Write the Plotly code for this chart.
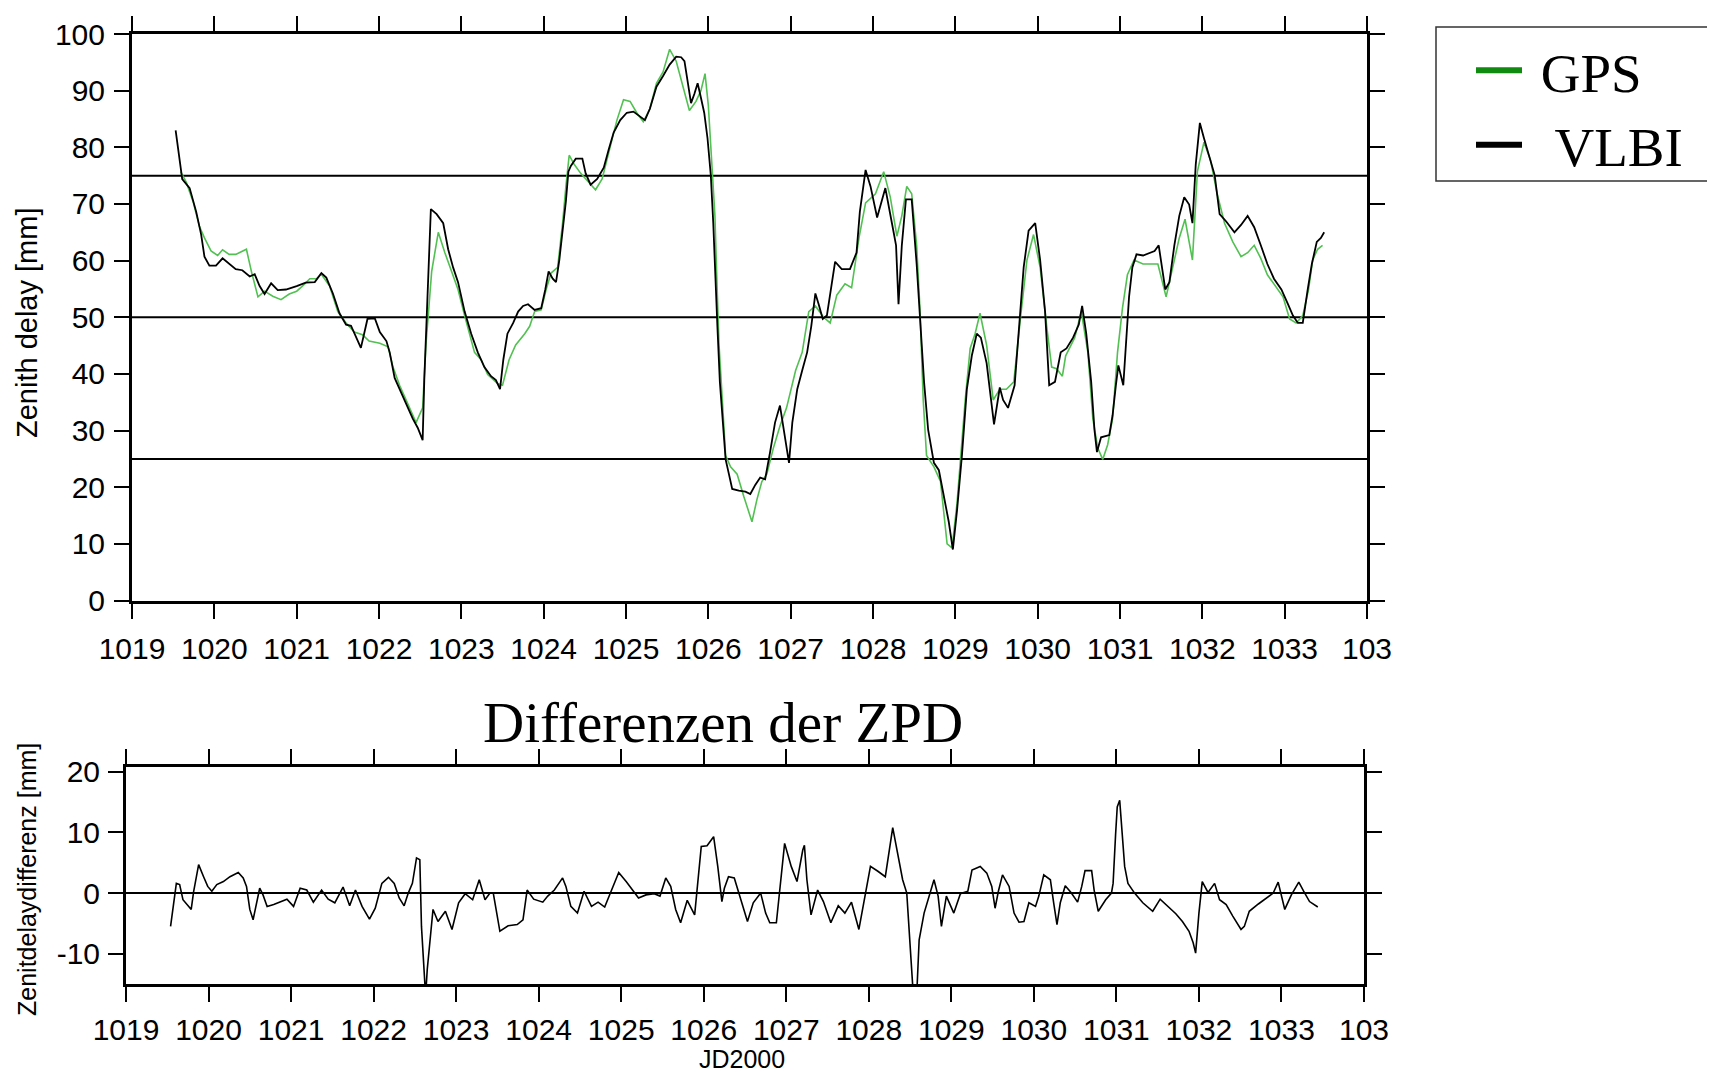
import plotly.graph_objects as go

# ---------------- data ----------------
jd_ticks = list(range(1019, 1035))
jd_tick_labels = [str(v) for v in range(1019, 1034)] + ["103"]
zd_ticks = list(range(0, 101, 10))
diff_ticks = [-10, 0, 10, 20]
diff_tick_labels = ["-10", "0", "10", "20"]
ref_levels = [25, 50, 75]

gps_jd = [1019.59, 1019.66, 1019.74, 1019.82, 1019.88, 1019.96, 1020.04, 1020.10, 1020.18, 1020.26,
          1020.39, 1020.45, 1020.53, 1020.61, 1020.71, 1020.81, 1020.91, 1021.00, 1021.07, 1021.16,
          1021.24, 1021.30, 1021.40, 1021.50, 1021.60, 1021.70, 1021.80, 1021.88, 1022.01, 1022.11,
          1022.17, 1022.25, 1022.35, 1022.45, 1022.53, 1022.57, 1022.64, 1022.72, 1022.80, 1022.88,
          1022.96, 1023.04, 1023.16, 1023.24, 1023.32, 1023.44, 1023.50, 1023.58, 1023.66, 1023.77,
          1023.83, 1023.89, 1023.97, 1024.03, 1024.09, 1024.17, 1024.23, 1024.27, 1024.31, 1024.37,
          1024.45, 1024.55, 1024.63, 1024.71, 1024.79, 1024.89, 1024.97, 1025.05, 1025.13, 1025.21,
          1025.29, 1025.37, 1025.45, 1025.53, 1025.61, 1025.69, 1025.77, 1025.85, 1025.91, 1025.96,
          1026.00, 1026.04, 1026.08, 1026.10, 1026.13, 1026.17, 1026.21, 1026.27, 1026.35, 1026.43,
          1026.53, 1026.59, 1026.65, 1026.71, 1026.79, 1026.87, 1026.95, 1027.06, 1027.14, 1027.22,
          1027.30, 1027.40, 1027.48, 1027.56, 1027.66, 1027.74, 1027.83, 1027.91, 1028.03, 1028.13,
          1028.21, 1028.29, 1028.35, 1028.41, 1028.47, 1028.53, 1028.57, 1028.61, 1028.65, 1028.74,
          1028.82, 1028.90, 1028.96, 1029.02, 1029.06, 1029.12, 1029.18, 1029.24, 1029.30, 1029.38,
          1029.46, 1029.54, 1029.62, 1029.71, 1029.79, 1029.87, 1029.95, 1030.03, 1030.11, 1030.17,
          1030.23, 1030.30, 1030.34, 1030.45, 1030.53, 1030.61, 1030.67, 1030.73, 1030.79, 1030.85,
          1030.91, 1030.97, 1031.03, 1031.09, 1031.17, 1031.28, 1031.38, 1031.46, 1031.56, 1031.64,
          1031.72, 1031.79, 1031.88, 1031.94, 1032.02, 1032.10, 1032.18, 1032.27, 1032.37, 1032.47,
          1032.55, 1032.63, 1032.71, 1032.79, 1032.89, 1032.98, 1033.06, 1033.14, 1033.22, 1033.29,
          1033.34, 1033.40, 1033.46]
gps_zd = [75.7, 73.8, 70.5, 66.0, 64.0, 61.7, 60.9, 61.9, 61.1, 61.1,
          62.0, 58.1, 53.6, 54.6, 53.7, 53.1, 54.1, 54.6, 55.5, 56.8,
          56.8, 57.6, 55.5, 51.0, 49.0, 47.4, 46.9, 45.8, 45.4, 44.8,
          41.2, 38.0, 34.7, 31.4, 34.0, 45.1, 58.1, 65.0, 61.4, 58.1,
          54.9, 50.3, 43.8, 42.5, 39.9, 38.3, 38.0, 42.5, 45.1, 47.1,
          48.4, 51.0, 51.3, 54.9, 57.8, 58.8, 66.6, 73.1, 78.6, 77.0,
          75.4, 73.8, 72.5, 74.4, 79.0, 84.8, 88.4, 88.1, 86.1, 84.5,
          86.8, 91.3, 93.3, 97.3, 95.2, 90.7, 86.5, 88.1, 90.0, 93.0,
          87.4, 77.7, 67.9, 58.1, 45.1, 35.4, 25.6, 23.6, 22.3, 18.4,
          13.9, 17.8, 21.0, 22.3, 26.9, 30.8, 34.0, 40.6, 43.8, 51.0,
          52.0, 50.0, 49.0, 53.9, 55.9, 55.2, 64.0, 70.2, 71.8, 75.7,
          71.2, 64.3, 67.9, 73.1, 71.8, 62.7, 51.6, 35.4, 25.6, 23.6,
          21.0, 10.0, 9.3, 17.1, 24.9, 35.4, 44.5, 47.1, 50.7, 45.1,
          35.4, 37.3, 37.3, 38.6, 49.7, 60.1, 64.6, 58.8, 48.4, 41.2,
          40.9, 39.6, 43.2, 46.4, 51.0, 43.8, 32.1, 26.9, 24.9, 27.5,
          32.1, 43.8, 51.6, 57.5, 60.1, 59.4, 59.4, 59.4, 53.6, 58.8,
          64.0, 67.3, 60.1, 75.7, 80.9, 77.7, 71.8, 66.6, 63.3, 60.7,
          61.4, 62.7, 60.4, 57.5, 55.5, 53.6, 49.7, 49.0, 50.3, 54.9,
          60.1, 62.0, 62.7]

vlbi_jd = [1019.53, 1019.57, 1019.61, 1019.70, 1019.78, 1019.84, 1019.88, 1019.94, 1020.02, 1020.10,
           1020.18, 1020.26, 1020.34, 1020.43, 1020.49, 1020.55, 1020.61, 1020.69, 1020.77, 1020.87,
           1021.00, 1021.11, 1021.22, 1021.30, 1021.36, 1021.44, 1021.52, 1021.60, 1021.66, 1021.72,
           1021.78, 1021.84, 1021.86, 1021.95, 1022.01, 1022.09, 1022.13, 1022.19, 1022.25, 1022.33,
           1022.41, 1022.47, 1022.53, 1022.55, 1022.58, 1022.60, 1022.63, 1022.70, 1022.78, 1022.84,
           1022.90, 1022.96, 1023.04, 1023.12, 1023.20, 1023.28, 1023.36, 1023.42, 1023.47, 1023.51,
           1023.56, 1023.63, 1023.69, 1023.75, 1023.81, 1023.89, 1023.97, 1024.02, 1024.06, 1024.11,
           1024.15, 1024.19, 1024.23, 1024.27, 1024.30, 1024.33, 1024.39, 1024.47, 1024.51, 1024.57,
           1024.65, 1024.73, 1024.79, 1024.85, 1024.93, 1025.01, 1025.09, 1025.17, 1025.23, 1025.29,
           1025.37, 1025.45, 1025.53, 1025.61, 1025.67, 1025.71, 1025.75, 1025.79, 1025.83, 1025.87,
           1025.90, 1025.95, 1025.99, 1026.03, 1026.06, 1026.08, 1026.11, 1026.14, 1026.17, 1026.21,
           1026.25, 1026.29, 1026.37, 1026.45, 1026.51, 1026.57, 1026.63, 1026.69, 1026.75, 1026.81,
           1026.87, 1026.92, 1026.98, 1027.02, 1027.08, 1027.14, 1027.20, 1027.25, 1027.30, 1027.34,
           1027.39, 1027.44, 1027.49, 1027.54, 1027.62, 1027.72, 1027.80, 1027.84, 1027.91, 1027.97,
           1028.05, 1028.15, 1028.23, 1028.28, 1028.31, 1028.35, 1028.40, 1028.47, 1028.53, 1028.57,
           1028.62, 1028.67, 1028.74, 1028.80, 1028.86, 1028.92, 1028.97, 1029.02, 1029.08, 1029.14,
           1029.20, 1029.26, 1029.31, 1029.38, 1029.47, 1029.54, 1029.58, 1029.64, 1029.72, 1029.77,
           1029.83, 1029.89, 1029.97, 1030.03, 1030.09, 1030.14, 1030.21, 1030.28, 1030.35, 1030.43,
           1030.50, 1030.54, 1030.59, 1030.65, 1030.69, 1030.72, 1030.77, 1030.87, 1030.91, 1030.95,
           1030.98, 1031.04, 1031.07, 1031.11, 1031.15, 1031.20, 1031.28, 1031.36, 1031.42, 1031.47,
           1031.51, 1031.55, 1031.60, 1031.66, 1031.72, 1031.78, 1031.84, 1031.88, 1031.92, 1031.97,
           1032.02, 1032.09, 1032.15, 1032.21, 1032.29, 1032.39, 1032.47, 1032.55, 1032.63, 1032.71,
           1032.79, 1032.87, 1032.96, 1033.04, 1033.10, 1033.16, 1033.22, 1033.28, 1033.33, 1033.39,
           1033.44, 1033.48]
vlbi_zd = [83.0, 79.0, 74.4, 72.8, 68.6, 64.6, 60.7, 59.1, 59.1, 60.4,
           59.4, 58.5, 58.3, 57.2, 57.6, 55.5, 54.1, 56.0, 54.8, 54.9,
           55.5, 56.1, 56.2, 57.8, 57.0, 54.2, 50.7, 48.7, 48.5, 46.4,
           44.6, 48.4, 49.7, 49.8, 47.4, 45.8, 43.8, 39.3, 37.3, 34.7,
           32.1, 30.5, 28.3, 38.9, 49.7, 59.4, 69.1, 68.2, 66.6, 62.0,
           58.8, 56.2, 51.0, 47.1, 43.8, 41.2, 39.6, 38.9, 37.3, 42.5,
           47.1, 49.0, 51.0, 52.0, 52.3, 51.3, 51.6, 54.9, 58.1, 56.8,
           56.2, 60.1, 65.3, 70.5, 75.7, 76.7, 78.0, 78.0, 75.4, 73.4,
           74.4, 76.4, 79.6, 82.6, 84.8, 86.1, 86.3, 85.5, 84.8, 86.8,
           90.7, 92.6, 94.6, 96.0, 95.9, 95.2, 91.3, 87.8, 89.4, 91.3,
           89.4, 86.1, 81.6, 75.1, 66.6, 58.1, 48.4, 38.6, 32.1, 24.9,
           22.3, 19.7, 19.4, 19.2, 18.8, 20.4, 21.7, 21.4, 26.2, 31.4,
           34.4, 29.5, 24.3, 31.4, 37.3, 40.6, 43.8, 48.4, 54.2, 52.3,
           49.7, 50.3, 54.9, 59.8, 58.5, 58.5, 61.4, 68.6, 76.0, 73.1,
           67.6, 72.8, 66.6, 62.7, 52.3, 62.7, 70.8, 70.8, 59.4, 50.3,
           38.6, 30.1, 24.3, 23.0, 18.4, 13.9, 9.0, 15.8, 25.6, 37.3,
           43.2, 47.1, 46.4, 41.9, 31.1, 37.6, 35.4, 34.0, 38.0, 47.1,
           58.8, 65.3, 66.6, 60.1, 51.0, 38.0, 38.6, 43.8, 44.5, 46.4,
           48.7, 52.0, 47.1, 38.6, 30.1, 26.2, 28.8, 29.2, 32.7, 38.0,
           41.5, 38.0, 45.1, 53.6, 58.8, 61.1, 60.9, 61.4, 61.7, 62.7,
           58.8, 54.9, 56.2, 62.7, 67.9, 71.2, 69.9, 66.6, 77.0, 84.3,
           81.6, 78.3, 75.1, 68.2, 66.9, 65.0, 66.3, 67.9, 65.9, 62.7,
           59.4, 56.8, 54.9, 52.3, 50.3, 49.0, 49.0, 54.9, 59.4, 63.3,
           64.0, 65.0]

diff_jd = [1019.54, 1019.57, 1019.61, 1019.65, 1019.69, 1019.76, 1019.79, 1019.82, 1019.88, 1019.94,
           1019.99, 1020.04, 1020.10, 1020.18, 1020.26, 1020.36, 1020.42, 1020.46, 1020.50, 1020.54,
           1020.58, 1020.62, 1020.66, 1020.71, 1020.79, 1020.87, 1020.95, 1021.03, 1021.11, 1021.19,
           1021.27, 1021.37, 1021.45, 1021.53, 1021.63, 1021.71, 1021.78, 1021.86, 1021.95, 1022.02,
           1022.10, 1022.18, 1022.25, 1022.31, 1022.37, 1022.42, 1022.47, 1022.52, 1022.56, 1022.58,
           1022.61, 1022.63, 1022.65, 1022.68, 1022.72, 1022.78, 1022.87, 1022.95, 1023.03, 1023.11,
           1023.20, 1023.28, 1023.35, 1023.41, 1023.45, 1023.53, 1023.63, 1023.74, 1023.81, 1023.86,
           1023.94, 1024.05, 1024.11, 1024.19, 1024.29, 1024.33, 1024.39, 1024.47, 1024.55, 1024.64,
           1024.72, 1024.80, 1024.88, 1024.97, 1025.06, 1025.14, 1025.21, 1025.30, 1025.40, 1025.47,
           1025.54, 1025.60, 1025.66, 1025.72, 1025.80, 1025.89, 1025.93, 1025.97, 1026.04, 1026.12,
           1026.17, 1026.22, 1026.25, 1026.30, 1026.37, 1026.44, 1026.53, 1026.60, 1026.69, 1026.75,
           1026.80, 1026.88, 1026.93, 1026.98, 1027.06, 1027.13, 1027.20, 1027.22, 1027.25, 1027.30,
           1027.38, 1027.45, 1027.54, 1027.63, 1027.71, 1027.79, 1027.88, 1027.95, 1028.02, 1028.11,
           1028.20, 1028.29, 1028.35, 1028.41, 1028.46, 1028.50, 1028.54, 1028.58, 1028.61, 1028.67,
           1028.74, 1028.79, 1028.84, 1028.88, 1028.94, 1029.03, 1029.11, 1029.20, 1029.25, 1029.35,
           1029.43, 1029.49, 1029.53, 1029.57, 1029.62, 1029.70, 1029.76, 1029.82, 1029.88, 1029.94,
           1030.02, 1030.06, 1030.12, 1030.20, 1030.24, 1030.28, 1030.32, 1030.38, 1030.45, 1030.53,
           1030.58, 1030.62, 1030.70, 1030.73, 1030.78, 1030.87, 1030.94, 1030.96, 1030.99, 1031.01,
           1031.04, 1031.07, 1031.10, 1031.14, 1031.22, 1031.32, 1031.44, 1031.53, 1031.62, 1031.72,
           1031.80, 1031.88, 1031.93, 1031.96, 1032.00, 1032.04, 1032.11, 1032.19, 1032.25, 1032.33,
           1032.41, 1032.51, 1032.55, 1032.61, 1032.72, 1032.82, 1032.90, 1032.96, 1033.04, 1033.12,
           1033.21, 1033.27, 1033.34, 1033.44]
diff_mm = [-5.5, -2.2, 1.6, 1.4, -1.1, -2.2, -2.7, 0.3, 4.7, 2.7,
           1.1, 0.3, 1.4, 1.9, 2.7, 3.4, 2.5, 1.1, -2.7, -4.4,
           -1.6, 0.8, -0.3, -2.2, -1.9, -1.5, -1.0, -2.2, 0.8, 0.5,
           -1.5, 0.5, -1.0, -1.6, 1.0, -2.1, 0.5, -2.2, -4.3, -2.5,
           1.6, 2.6, 1.6, -0.8, -2.1, 0.0, 1.6, 5.8, 5.5, -5.5,
           -11.5, -17.0, -12.6, -8.2, -2.7, -4.7, -3.0, -6.0, -1.6, -0.1,
           -1.1, 2.2, -1.1, 0.0, 0.0, -6.3, -5.4, -5.2, -4.4, 0.5,
           -1.0, -1.5, -0.5, 0.5, 2.5, 1.1, -2.2, -3.3, 0.3, -2.2,
           -1.5, -2.3, 0.5, 3.4, 1.9, 0.5, -0.8, -0.3, -0.1, -0.5,
           2.5, 1.1, -2.7, -4.9, -1.2, -3.6, 2.7, 7.7, 7.8, 9.3,
           4.4, -1.4, 0.8, 2.7, 2.5, -0.5, -4.7, -1.6, 0.0, -3.3,
           -4.9, -4.9, 2.2, 8.2, 4.4, 1.9, 7.1, 7.9, 2.2, -3.6,
           0.5, -1.4, -4.9, -2.1, -3.3, -1.5, -6.0, -1.1, 4.4, 3.6,
           2.7, 10.8, 6.3, 2.2, 0.0, -8.2, -17.0, -17.0, -7.7, -3.3,
           -0.3, 2.2, -0.5, -5.5, -0.5, -3.3, -0.1, 0.3, 3.8, 4.4,
           3.3, 1.1, -2.5, 0.3, 3.0, 1.1, -3.3, -4.8, -4.7, -1.6,
           -2.2, -0.5, 3.0, 2.2, -1.6, -5.2, -1.6, 1.2, 0.1, -1.5,
           1.1, 3.7, 3.7, 0.5, -3.0, -1.1, 0.0, 1.6, 9.6, 14.2,
           15.3, 9.9, 4.4, 1.6, 0.0, -1.6, -3.0, -1.0, -2.2, -3.4,
           -4.7, -6.3, -8.2, -9.9, -3.3, 1.9, 0.1, 1.6, -1.1, -1.9,
           -3.8, -6.0, -5.5, -3.0, -1.8, -0.8, 0.0, 1.8, -2.7, -0.3,
           1.8, 0.3, -1.4, -2.3]

# ---------------- layout constants (pixels in the page) ----------------
PAGE_W, PAGE_H = 1715, 1079
BODY = 8                       # default page margin around the plot div
W, H = PAGE_W - BODY, PAGE_H - BODY
TOP = dict(left=132, right=1367, top=34, bottom=600.5)
BOT = dict(left=126, right=1364, top=767, bottom=984)
LEG_BOX = dict(left=1436, right=1711, top=27, bottom=181)


def px(x):
    return (x - BODY) / W


def py(y):
    return 1 - (y - BODY) / H


def xdom(b):
    return [px(b["left"]), px(b["right"])]


def ydom(b):
    return [py(b["bottom"]), py(b["top"])]


SANS = "Liberation Sans, Arial, sans-serif"
SERIF = "Liberation Serif, Times New Roman, serif"
GPS_COLOR = "#52c052"
GPS_LEGEND = "#108a10"
NB = "\u00a0"

fig = go.Figure()

fig.add_trace(go.Scatter(x=gps_jd, y=gps_zd, mode="lines", name="GPS",
                         line=dict(color=GPS_COLOR, width=1.6), showlegend=False,
                         legendgroup="gps", xaxis="x", yaxis="y"))
fig.add_trace(go.Scatter(x=vlbi_jd, y=vlbi_zd, mode="lines", name="VLBI",
                         line=dict(color="black", width=1.8), showlegend=False,
                         legendgroup="vlbi", xaxis="x", yaxis="y"))
# legend entries with thick sample lines
fig.add_trace(go.Scatter(x=[None], y=[None], mode="lines", name=NB + "GPS",
                         line=dict(color=GPS_LEGEND, width=6), legendgroup="gps",
                         xaxis="x", yaxis="y"))
fig.add_trace(go.Scatter(x=[None], y=[None], mode="lines", name=NB + NB + "VLBI",
                         line=dict(color="black", width=6), legendgroup="vlbi",
                         xaxis="x", yaxis="y"))
fig.add_trace(go.Scatter(x=diff_jd, y=diff_mm, mode="lines", name="Differenz",
                         line=dict(color="black", width=1.6), showlegend=False,
                         xaxis="x2", yaxis="y2"))

axis_common = dict(
    showline=True, linewidth=3, linecolor="black", mirror="ticks",
    ticks="outside", ticklen=15, tickwidth=2, tickcolor="black",
    showgrid=False, zeroline=False, automargin=False,
    tickfont=dict(family=SANS, size=30, color="black"),
)

fig.update_layout(
    width=W, height=H,
    margin=dict(l=0, r=0, t=0, b=0, autoexpand=False),
    paper_bgcolor="white", plot_bgcolor="white",
    showlegend=True,
    legend=dict(
        x=px(1471), y=py(28), xanchor="left", yanchor="top",
        borderwidth=0, bgcolor="rgba(0,0,0,0)",
        font=dict(family=SERIF, size=55, color="black"),
        itemwidth=46, tracegroupgap=0,
    ),
    xaxis=dict(domain=xdom(TOP), range=[1019, 1034], tickvals=jd_ticks,
               ticktext=jd_tick_labels, anchor="y", ticklabelstandoff=4, **axis_common),
    yaxis=dict(domain=ydom(TOP), range=[0, 100], tickvals=zd_ticks,
               anchor="x", ticklabelstandoff=3, **axis_common),
    xaxis2=dict(domain=xdom(BOT), range=[1019, 1034], tickvals=jd_ticks,
                ticktext=jd_tick_labels, anchor="y2", ticklabelstandoff=2, **axis_common),
    yaxis2=dict(domain=ydom(BOT), range=[-15, 20.8], tickvals=diff_ticks,
                ticktext=diff_tick_labels, anchor="x2", ticklabelstandoff=2, **axis_common),
)

for lvl in ref_levels:
    fig.add_shape(type="line", xref="x domain", yref="y", x0=0, x1=1, y0=lvl, y1=lvl,
                  line=dict(color="black", width=2), layer="below")
fig.add_shape(type="line", xref="x2 domain", yref="y2", x0=0, x1=1, y0=0, y1=0,
              line=dict(color="black", width=2), layer="below")
# legend frame
fig.add_shape(type="rect", xref="paper", yref="paper",
              x0=px(LEG_BOX["left"]), x1=px(LEG_BOX["right"]),
              y0=py(LEG_BOX["bottom"]), y1=py(LEG_BOX["top"]),
              line=dict(color="#333333", width=1.5), fillcolor="rgba(0,0,0,0)")

fig.add_annotation(text="Zenith delay [mm]", xref="paper", yref="paper",
                   x=px(27), y=py(323), xanchor="center", yanchor="middle",
                   textangle=-90, showarrow=False,
                   font=dict(family=SANS, size=29, color="black"))
fig.add_annotation(text="Zenitdelaydifferenz [mm]", xref="paper", yref="paper",
                   x=px(27), y=py(880), xanchor="center", yanchor="middle",
                   textangle=-90, showarrow=False,
                   font=dict(family=SANS, size=25, color="black"))
fig.add_annotation(text="JD2000", xref="paper", yref="paper",
                   x=px(742), y=py(1059), xanchor="center", yanchor="middle",
                   showarrow=False, font=dict(family=SANS, size=25, color="black"))
fig.add_annotation(text="Differenzen der ZPD", xref="paper", yref="paper",
                   x=px(723), y=py(722), xanchor="center", yanchor="middle",
                   showarrow=False, font=dict(family=SERIF, size=57, color="black"))

fig.write_html("out.html")
